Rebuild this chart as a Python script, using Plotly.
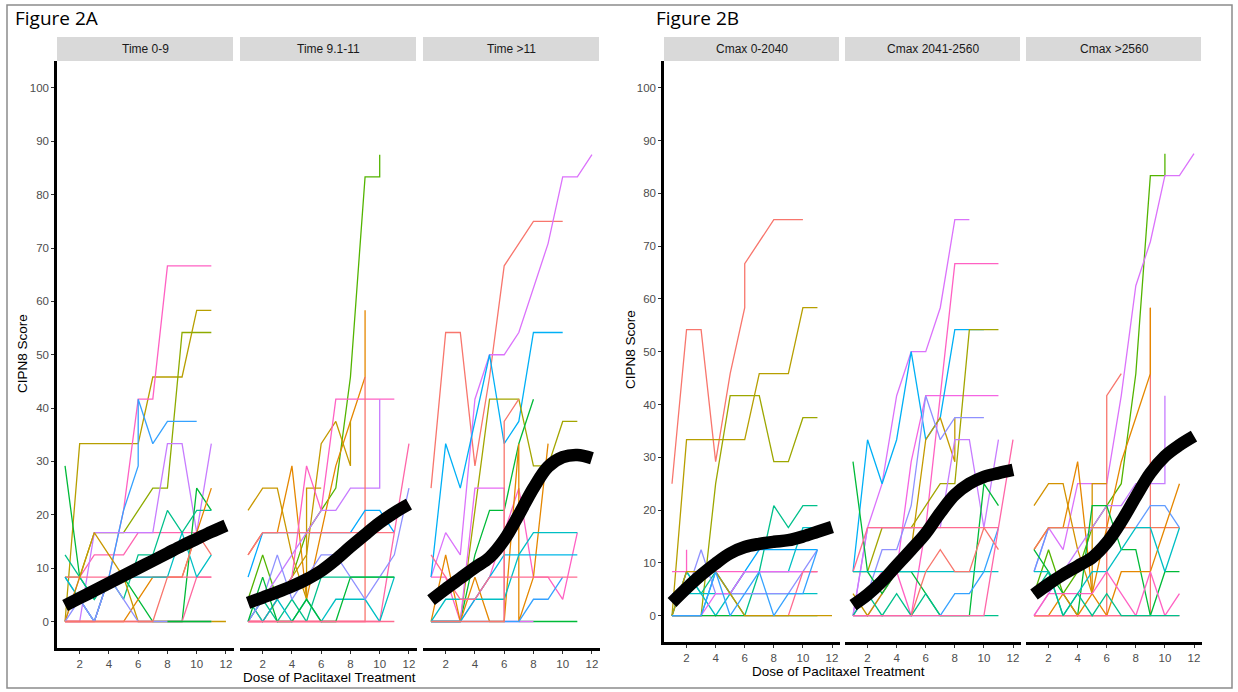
import plotly.graph_objects as go

W, H = 1238, 692
DOSE_GRID = list(range(1, 13))

# ---------------- smooth (loess) curves ----------------
SMOOTH_A1 = [3.0, 4.4, 5.8, 7.2, 8.6, 10.0, 11.4, 12.8, 14.2, 15.5, 16.8, 18.0]
SMOOTH_A2 = [3.5, 4.5, 5.5, 6.6, 7.9, 9.5, 11.6, 14.0, 16.3, 18.5, 20.4, 22.0]
SMOOTH_A3 = [4.0, 6.1, 8.1, 10.1, 12.0, 15.3, 20.0, 25.0, 29.0, 30.8, 31.2, 30.6]
SMOOTH_B1 = [2.5, 5.2, 7.7, 9.9, 11.8, 13.0, 13.6, 14.0, 14.3, 15.0, 15.9, 16.8]
SMOOTH_B2 = [2.0, 4.0, 6.5, 9.5, 12.5, 15.6, 19.5, 22.9, 25.0, 26.3, 27.0, 27.6]
SMOOTH_B3 = [4.0, 6.0, 7.8, 9.4, 11.0, 13.8, 17.8, 22.5, 27.0, 30.2, 32.3, 34.0]

# ---------------- individual patient trajectories ----------------
# doses: None means doses 1..len(scores)
A1_COLORS = ["#B79F00", "#FF61C3", "#FF64B0", "#8EAB00", "#35A2FF", "#C77CFF", "#00BA38",
             "#00C08B", "#E58700", "#FF6C91", "#FF689F", "#00BFC4", "#C99800", "#8F91FF",
             "#F8766D", "#00BA38"]
A1_DOSES = [None, None, None, None, [1, 2, 3, 4, 5, 6, 6, 7, 8, 9, 10], None, None,
            None, None, None, None, None, None, None, None, [8, 9, 10, 11]]
A1_SCORES = [
    [0, 33.33, 33.33, 33.33, 33.33, 33.33, 45.83, 45.83, 45.83, 58.33, 58.33],
    [0, 0, 0, 8.33, 20.83, 41.67, 41.67, 66.67, 66.67, 66.67, 66.67],
    [0, 8.33, 12.5, 12.5, 12.5, 16.67, 16.67, 16.67, 16.67, 16.67, 16.67],
    [8.33, 8.33, 16.67, 16.67, 16.67, 20.83, 25, 25, 54.17, 54.17, 54.17],
    [8.33, 4.17, 0, 8.33, 20.83, 29.17, 41.67, 33.33, 37.5, 37.5, 37.5],
    [0, 0, 16.67, 16.67, 16.67, 16.67, 16.67, 33.33, 33.33, 16.67, 33.33],
    [29.17, 8.33, 4.17, 8.33, 8.33, 4.17, 0, 0, 0, 25, 20.83],
    [12.5, 8.33, 4.17, 8.33, 4.17, 12.5, 12.5, 20.83, 16.67, 20.83, 20.83],
    [0, 0, 0, 0, 0, 4.17, 8.33, 8.33, 8.33, 16.67, 25],
    [8.33, 8.33, 8.33, 8.33, 8.33, 8.33, 8.33, 8.33, 8.33, 8.33, 8.33],
    [0, 0, 0, 0, 0, 0, 0, 0, 0, 8.33, 8.33],
    [8.33, 4.17, 0, 8.33, 8.33, 8.33, 8.33, 8.33, 16.67, 8.33, 12.5],
    [0, 8.33, 16.67, 12.5, 8.33, 0, 0, 0, 0, 0, 0, 0],
    [0, 4.17, 0, 8.33, 4.17, 0, 0, 0, 0, 0, 0],
    [0, 0, 0, 0, 0, 0, 0, 8.33, 8.33, 16.67, 12.5],
    [0, 0, 0, 0],
]

A2_COLORS = ["#53B400", "#E58700", "#C99800", "#C49A00", "#FF61C3", "#C77CFF", "#F8766D",
             "#00A9FF", "#FB727E", "#FF66A8", "#00C08B", "#00BFC4", "#8F91FF", "#00BA38",
             "#FF6C91"]
A2_DOSES = [[1, 2, 3, 4, 5, 6, 7, 8, 9, 10, 10], [1, 2, 3, 4, 5, 6, 7, 8, 9, 9],
            [1, 2, 3, 4, 5, 5, 6], [1, 2, 3, 4, 5, 6, 7, 8, 8], None,
            [1, 2, 3, 4, 5, 6, 7, 8, 9, 10, 10], [1, 2, 3, 4, 5, 6, 7, 8, 9, 9],
            None, None, None, None, None, None, None, None]
A2_SCORES = [
    [4.17, 12.5, 4.17, 8.33, 16.67, 20.83, 25, 45.83, 83.33, 83.33, 87.5],
    [12.5, 16.67, 16.67, 29.17, 4.17, 16.67, 29.17, 37.5, 45.83, 58.33],
    [20.83, 25, 25, 12.5, 4.17, 25, 25],
    [4.17, 0, 4.17, 8.33, 12.5, 33.33, 37.5, 29.17, 37.5],
    [0, 0, 4.17, 8.33, 29.17, 20.83, 41.67, 41.67, 41.67, 41.67, 41.67],
    [0, 4.17, 8.33, 12.5, 16.67, 20.83, 20.83, 25, 25, 25, 41.67],
    [0, 0, 0, 0, 0, 0, 0, 0, 0, 45.83],
    [8.33, 16.67, 16.67, 16.67, 16.67, 16.67, 16.67, 16.67, 20.83, 20.83, 16.67],
    [12.5, 16.67, 16.67, 16.67, 16.67, 16.67, 16.67, 16.67, 16.67, 16.67, 16.67],
    [0, 0, 0, 0, 0, 0, 0, 0, 0, 0, 16.67, 33.33],
    [0, 4.17, 0, 4.17, 0, 8.33, 8.33, 8.33, 8.33, 8.33, 8.33],
    [4.17, 0, 4.17, 0, 4.17, 0, 4.17, 4.17, 4.17, 0, 8.33],
    [0, 4.17, 12.5, 4.17, 8.33, 12.5, 12.5, 8.33, 4.17, 8.33, 12.5, 25],
    [0, 8.33, 0, 0, 4.17, 0, 0, 8.33, 8.33, 8.33, 8.33],
    [0, 0, 0, 0, 0, 0, 0, 0, 0, 0, 0],
]

A3_COLORS = ["#F8766D", "#DB72FB", "#00B0F6", "#A3A500", "#00BA38", "#00BA38", "#FF61C3",
             "#E76BF3", "#E58700", "#00BFC4", "#00B8E7", "#35A2FF", "#FF6C91", "#F8766D"]
A3_DOSES = [None, None, None, None, None, [7, 8, 9, 10, 11], None,
            [1, 2, 3, 4, 5, 6, 6, 7, 8], [1, 2, 3, 4, 5, 6, 7, 7, 8, 9], None, None,
            None, None, [1, 2, 3, 4, 5, 6, 6, 7]]
A3_SCORES = [
    [25, 54.17, 54.17, 29.17, 45.83, 66.67, 70.83, 75, 75, 75],
    [8.33, 16.67, 12.5, 41.67, 50, 50, 54.17, 62.5, 70.83, 83.33, 83.33, 87.5],
    [8.33, 33.33, 25, 37.5, 50, 33.33, 37.5, 54.17, 54.17, 54.17],
    [0, 0, 0, 20.83, 41.67, 41.67, 41.67, 29.17, 29.17, 37.5, 37.5],
    [0, 0, 0, 12.5, 20.83, 20.83, 33.33, 41.67],
    [0, 0, 0, 0, 0],
    [8.33, 8.33, 0, 4.17, 8.33, 16.67, 25, 8.33, 8.33, 4.17, 16.67],
    [0, 0, 0, 25, 25, 25, 0, 0, 0],
    [0, 12.5, 0, 8.33, 0, 0, 33.33, 0, 8.33, 33.33],
    [0, 4.17, 4.17, 4.17, 4.17, 4.17, 12.5, 16.67, 16.67, 16.67, 16.67],
    [0, 0, 0, 4.17, 8.33, 12.5, 12.5, 12.5, 12.5, 12.5, 12.5],
    [0, 0, 0, 0, 0, 0, 0, 4.17, 4.17, 8.33],
    [12.5, 8.33, 4.17, 4.17, 8.33, 8.33, 8.33, 8.33, 8.33, 8.33, 8.33],
    [0, 0, 0, 0, 0, 0, 37.5, 41.67],
]

B1_COLORS = ["#F8766D", "#B79F00", "#9DA700", "#00C08B", "#00BFC4", "#00BFC4", "#00A9FF",
             "#FF61C3", "#8F91FF", "#E76BF3", "#FF6C91", "#00BA38", "#C99800", "#35A2FF"]
B1_DOSES = [[1, 2, 3, 4, 5, 6, 6, 7, 8, 9, 10], None, None, None, None, None, None,
            [1, 2, 2, 2, 3, 4, 5, 6, 7, 8, 9, 10, 11], None, None, None, None, None, None]
B1_SCORES = [
    [25, 54.17, 54.17, 29.17, 45.83, 58.33, 66.67, 70.83, 75, 75, 75],
    [0, 33.33, 33.33, 33.33, 33.33, 33.33, 45.83, 45.83, 45.83, 58.33, 58.33],
    [0, 0, 0, 25, 41.67, 41.67, 41.67, 29.17, 29.17, 37.5, 37.5],
    [0, 8.33, 4.17, 8.33, 4.17, 0, 8.33, 20.83, 16.67, 20.83, 20.83],
    [4.17, 4.17, 4.17, 4.17, 4.17, 4.17, 4.17, 4.17, 4.17, 4.17, 4.17],
    [0, 8.33, 4.17, 0, 4.17, 8.33, 8.33, 8.33, 8.33, 16.67, 16.67],
    [0, 0, 0, 8.33, 4.17, 8.33, 12.5, 12.5, 12.5, 12.5, 12.5],
    [8.33, 8.33, 12.5, 8.33, 8.33, 8.33, 8.33, 8.33, 8.33, 8.33, 8.33, 8.33, 8.33],
    [4.17, 4.17, 12.5, 4.17, 4.17, 4.17, 4.17, 4.17, 4.17, 8.33, 12.5],
    [0, 0, 0, 4.17, 4.17, 8.33, 8.33, 8.33, 8.33, 8.33, 8.33],
    [0, 0, 0, 0, 0, 0, 0, 0, 0, 8.33, 8.33],
    [0, 0, 0, 0, 0, 0, 0, 0, 0, 0, 0],
    [0, 8.33, 8.33, 8.33, 4.17, 0, 0, 0, 0, 0, 0, 0],
    [0, 0, 0, 8.33, 0, 4.17, 8.33, 0, 4.17, 4.17, 12.5],
]

B2_COLORS = ["#DB72FB", "#FF61C3", "#F564E3", "#00B0F6", "#A3A500", "#C49A00", "#8F91FF",
             "#C77CFF", "#00BA38", "#FF6C91", "#00BFC4", "#00C08B", "#35A2FF", "#F8766D",
             "#FF66A8"]
B2_DOSES = [None, None, None, None, None, [1, 2, 3, 4, 5, 6, 7, 8, 8], None, None, None,
            None, None, None, None, None, None]
B2_SCORES = [
    [0, 16.67, 25, 41.67, 50, 50, 58.33, 75, 75],
    [0, 4.17, 8.33, 8.33, 0, 16.67, 41.67, 66.67, 66.67, 66.67, 66.67],
    [0, 0, 4.17, 8.33, 29.17, 41.67, 41.67, 41.67, 41.67, 41.67, 41.67],
    [8.33, 33.33, 25, 33.33, 50, 33.33, 37.5, 54.17, 54.17, 54.17],
    [8.33, 8.33, 16.67, 16.67, 16.67, 20.83, 25, 25, 54.17, 54.17, 54.17],
    [4.17, 0, 4.17, 8.33, 12.5, 33.33, 37.5, 29.17, 37.5],
    [0, 4.17, 12.5, 12.5, 20.83, 41.67, 33.33, 37.5, 37.5, 37.5],
    [0, 16.67, 16.67, 16.67, 16.67, 16.67, 16.67, 33.33, 33.33, 16.67, 33.33],
    [29.17, 8.33, 4.17, 8.33, 8.33, 4.17, 0, 0, 0, 25, 20.83],
    [8.33, 16.67, 16.67, 16.67, 16.67, 16.67, 16.67, 16.67, 16.67, 16.67, 16.67],
    [8.33, 8.33, 8.33, 8.33, 8.33, 8.33, 8.33, 8.33, 8.33, 8.33, 8.33],
    [0, 4.17, 0, 4.17, 0, 4.17, 0, 0, 0, 0, 0],
    [0, 0, 0, 0, 0, 0, 0, 4.17, 4.17, 8.33, 16.67],
    [0, 0, 0, 0, 0, 8.33, 12.5, 8.33, 8.33, 16.67, 12.5],
    [0, 0, 0, 0, 0, 0, 0, 0, 0, 0, 16.67, 33.33],
]

B3_COLORS = ["#53B400", "#DB72FB", "#F8766D", "#F8766D", "#E58700", "#D39200", "#C77CFF",
             "#619CFF", "#F37B59", "#00BA38", "#E58700", "#00BFC4", "#FF6C91", "#FF61C3",
             "#00C08B"]
B3_DOSES = [[1, 2, 3, 4, 5, 6, 7, 8, 9, 10, 10], None, [1, 2, 3, 4, 5, 6, 6, 7],
            [1, 2, 3, 4, 5, 6, 7, 8, 9, 9], [1, 2, 3, 4, 5, 6, 7, 8, 9, 9],
            [1, 2, 3, 4, 5, 5, 6], [1, 2, 3, 4, 5, 6, 7, 8, 9, 10, 10], None, None, None,
            None, None, None, None, None]
B3_SCORES = [
    [4.17, 12.5, 4.17, 8.33, 16.67, 20.83, 25, 45.83, 83.33, 83.33, 87.5],
    [8.33, 16.67, 12.5, 25, 25, 25, 41.67, 62.5, 70.83, 83.33, 83.33, 87.5],
    [0, 0, 0, 0, 0, 0, 41.67, 45.83],
    [0, 0, 0, 0, 0, 0, 0, 0, 0, 58.33],
    [12.5, 16.67, 16.67, 29.17, 4.17, 16.67, 29.17, 37.5, 45.83, 58.33],
    [20.83, 25, 25, 12.5, 4.17, 25, 25],
    [0, 4.17, 8.33, 12.5, 16.67, 20.83, 20.83, 25, 25, 25, 41.67],
    [8.33, 16.67, 16.67, 16.67, 16.67, 16.67, 16.67, 16.67, 20.83, 20.83, 16.67],
    [12.5, 16.67, 16.67, 16.67, 16.67, 16.67, 16.67, 16.67, 16.67, 16.67, 16.67],
    [12.5, 8.33, 4.17, 0, 20.83, 20.83, 12.5, 12.5, 0, 8.33, 8.33],
    [0, 0, 4.17, 0, 4.17, 0, 8.33, 8.33, 8.33, 16.67, 25],
    [8.33, 8.33, 0, 4.17, 8.33, 8.33, 12.5, 16.67, 16.67, 8.33, 16.67],
    [0, 0, 0, 0, 0, 0, 0, 0, 0, 0, 0],
    [0, 4.17, 4.17, 4.17, 4.17, 8.33, 4.17, 0, 8.33, 0, 4.17],
    [4.17, 8.33, 0, 4.17, 0, 4.17, 0, 0, 0, 0, 0],
]

STRIP_LABELS_A = ["Time 0-9", "Time 9.1-11", "Time >11"]
STRIP_LABELS_B = ["Cmax 0-2040", "Cmax 2041-2560", "Cmax >2560"]
Y_TICKS = list(range(0, 101, 10))
X_TICKS = [2, 4, 6, 8, 10, 12]

# ---------------- layout geometry (pixels) ----------------
PANELS_X = [(57, 234), (240, 417), (423, 600), (664, 840), (845, 1021), (1026, 1202)]
A_Y = (61.3, 648.2)
B_Y = (61.3, 642.1)


def px_x(p):
    return p / W


def px_y(p):
    return 1 - p / H


fig = go.Figure()

facets = [
    (A1_COLORS, A1_DOSES, A1_SCORES, SMOOTH_A1),
    (A2_COLORS, A2_DOSES, A2_SCORES, SMOOTH_A2),
    (A3_COLORS, A3_DOSES, A3_SCORES, SMOOTH_A3),
    (B1_COLORS, B1_DOSES, B1_SCORES, SMOOTH_B1),
    (B2_COLORS, B2_DOSES, B2_SCORES, SMOOTH_B2),
    (B3_COLORS, B3_DOSES, B3_SCORES, SMOOTH_B3),
]

for i, (cols, doses, scores, smooth) in enumerate(facets):
    xa = "x" if i == 0 else f"x{i + 1}"
    ya = "y" if i < 3 else "y2"
    for c, d, s in zip(cols, doses, scores):
        xs = d if d is not None else list(range(1, len(s) + 1))
        fig.add_trace(go.Scatter(x=xs, y=s, mode="lines", xaxis=xa, yaxis=ya,
                                 line=dict(color=c, width=1.3), showlegend=False,
                                 hoverinfo="skip"))
    fig.add_trace(go.Scatter(x=DOSE_GRID, y=smooth, mode="lines", xaxis=xa, yaxis=ya,
                             line=dict(color="black", width=12.5, shape="spline",
                                       smoothing=1.0),
                             showlegend=False, hoverinfo="skip"))

FONT = "Liberation Sans, Arial, sans-serif"
tickfont = dict(family=FONT, size=11.5, color="#4d4d4d")

layout = dict(
    width=W, height=H, autosize=False,
    margin=dict(l=0, r=0, t=0, b=0, pad=0),
    paper_bgcolor="white", plot_bgcolor="white",
    showlegend=False,
)

for i, (x0, x1) in enumerate(PANELS_X):
    key = "xaxis" if i == 0 else f"xaxis{i + 1}"
    layout[key] = dict(
        domain=[px_x(x0), px_x(x1)], range=[0.45, 12.55],
        anchor="y" if i < 3 else "y2",
        tickvals=X_TICKS, ticks="outside", ticklen=3, tickwidth=1, tickcolor="#333333",
        showline=True, linewidth=2.5, linecolor="black", showgrid=False, zeroline=False,
        tickfont=tickfont, fixedrange=True,
    )

for key, (yt, yb), anc in [("yaxis", A_Y, "x"), ("yaxis2", B_Y, "x4")]:
    layout[key] = dict(
        domain=[px_y(yb), px_y(yt)], range=[-5, 105], anchor=anc,
        tickvals=Y_TICKS, ticks="outside", ticklen=3, tickwidth=1, tickcolor="#333333",
        showline=True, linewidth=2.5, linecolor="black", showgrid=False, zeroline=False,
        tickfont=tickfont, fixedrange=True,
    )

fig.update_layout(**layout)

shapes = []
annotations = []
# strips
for (x0, x1), lab in zip(PANELS_X, STRIP_LABELS_A + STRIP_LABELS_B):
    shapes.append(dict(type="rect", xref="paper", yref="paper",
                       x0=px_x(x0), x1=px_x(x1 - 1), y0=px_y(61), y1=px_y(37),
                       fillcolor="#d9d9d9", line=dict(width=0), layer="below"))
    annotations.append(dict(text=lab, xref="paper", yref="paper",
                            x=px_x((x0 + x1) / 2), y=px_y(49), showarrow=False,
                            xanchor="center", yanchor="middle",
                            font=dict(family=FONT, size=12, color="#1a1a1a")))
# outer border
shapes.append(dict(type="rect", xref="paper", yref="paper",
                   x0=px_x(7), x1=px_x(1232), y0=px_y(688), y1=px_y(5),
                   line=dict(color="#8c8c8c", width=1.5), fillcolor="rgba(0,0,0,0)"))

title_font = dict(family=FONT, size=13.5, color="black")
annotations += [
    dict(text="Figure 2A", xref="paper", yref="paper", x=px_x(13), y=px_y(18),
         xanchor="left", yanchor="middle", showarrow=False,
         font=dict(family="Open Sans, Liberation Sans, sans-serif", size=19, color="black")),
    dict(text="Figure 2B", xref="paper", yref="paper", x=px_x(654), y=px_y(18),
         xanchor="left", yanchor="middle", showarrow=False,
         font=dict(family="Open Sans, Liberation Sans, sans-serif", size=19, color="black")),
    dict(text="CIPN8 Score", xref="paper", yref="paper", x=px_x(22), y=px_y(354),
         textangle=-90, showarrow=False, xanchor="center", yanchor="middle", font=title_font),
    dict(text="CIPN8 Score", xref="paper", yref="paper", x=px_x(630), y=px_y(350),
         textangle=-90, showarrow=False, xanchor="center", yanchor="middle", font=title_font),
    dict(text="Dose of Paclitaxel Treatment", xref="paper", yref="paper", x=px_x(329),
         y=px_y(677), showarrow=False, xanchor="center", yanchor="middle", font=title_font),
    dict(text="Dose of Paclitaxel Treatment", xref="paper", yref="paper", x=px_x(838),
         y=px_y(671), showarrow=False, xanchor="center", yanchor="middle", font=title_font),
]

fig.update_layout(shapes=shapes, annotations=annotations)
fig.write_html("out.html")
